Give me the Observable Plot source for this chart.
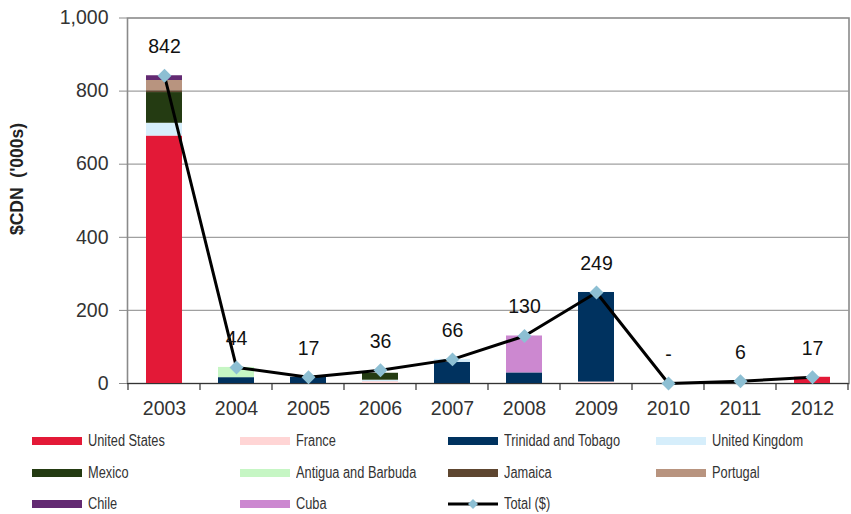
<!DOCTYPE html>
<html>
<head>
<meta charset="utf-8">
<script src="https://cdn.jsdelivr.net/npm/d3@7"></script>
<script src="https://cdn.jsdelivr.net/npm/@observablehq/plot@0.6"></script>
<style>
  html, body { margin: 0; padding: 0; background: #fff; }
  #wrap { position: relative; width: 851px; height: 514px; overflow: hidden; font-family: "Liberation Sans", Arial, sans-serif; }
  #ytitle { position: absolute; left: 17px; top: 179px; transform: translate(-50%, -50%) rotate(-90deg); font-weight: bold; font-size: 17.5px; color: #222; white-space: pre; }
  #legend { position: absolute; left: 32px; top: 425.5px; display: grid; grid-template-columns: repeat(4, 208px); grid-auto-rows: 31.5px; }
  .item { display: flex; align-items: center; height: 31.5px; }
  .sw { width: 50px; height: 8px; flex: none; }
  .lab { margin-left: 6px; font-size: 16px; color: #333; transform: scaleX(0.8); transform-origin: left center; white-space: nowrap; }
</style>
</head>
<body>
<div id="wrap">
  <div id="chart"></div>
  <div id="ytitle">$CDN  ('000s)</div>
  <div id="legend"></div>
</div>
<script>
const years = ["2003","2004","2005","2006","2007","2008","2009","2010","2011","2012"];
const countries = ["United States","France","Trinidad and Tobago","United Kingdom","Mexico","Antigua and Barbuda","Jamaica","Portugal","Chile","Cuba"];
const countryColors = ["#E31937","#FFD5D5","#00325F","#D6EEFB","#243B12","#C6F6C4","#5E4630","#B8947F","#632A72","#CC88D0"];

const unitedStates     = [677, 0, 0, 0, 0, 0, 0, 0, 0, 17];
const france           = [0, 0, 0, 5, 0, 0, 4, 0, 0, 0];
const trinidadTobago   = [0, 16, 17, 0, 58, 29, 245, 0, 0, 0];
const unitedKingdom    = [35, 0, 0, 4, 8, 0, 0, 0, 0, 0];
const mexico           = [84, 0, 0, 19, 0, 0, 0, 0, 0, 0];
const antiguaBarbuda   = [0, 28, 0, 0, 0, 0, 0, 0, 0, 0];
const jamaica          = [5, 0, 0, 0, 0, 0, 0, 0, 0, 0];
const portugal         = [28, 0, 0, 0, 0, 0, 0, 0, 0, 0];
const chile            = [13, 0, 0, 0, 0, 0, 0, 0, 0, 0];
const cuba             = [0, 0, 0, 0, 0, 101, 0, 0, 0, 0];
const totals           = [842, 44, 17, 36, 66, 130, 249, 0, 6, 17];
const yTicks = [0, 200, 400, 600, 800, 1000];

const seriesValues = [unitedStates, france, trinidadTobago, unitedKingdom, mexico, antiguaBarbuda, jamaica, portugal, chile, cuba];
const stacked = [];
countries.forEach((c, ci) => years.forEach((y, yi) => {
  if (seriesValues[ci][yi] > 0) stacked.push({year: y, country: c, value: seriesValues[ci][yi]});
}));
const totalRows = years.map((y, i) => ({year: y, total: totals[i], label: totals[i] === 0 ? "-" : d3.format(",")(totals[i])}));

function boundaryTicks(index, scales, values, dimensions) {
  const x = scales.x, y = scales.y;
  const step = x(years[1]) - x(years[0]);
  const y0 = y(0);
  const g = d3.create("svg:g").attr("stroke", "#333").attr("stroke-width", 1.2);
  const xs = years.map(v => x(v) - step * 0.25);
  xs.push(x(years[years.length - 1]) + step * 0.75);
  xs.forEach(px => g.append("line").attr("x1", px).attr("x2", px).attr("y1", y0).attr("y2", y0 + 7));
  return g.node();
}

const chart = Plot.plot({
  width: 851,
  height: 423,
  marginLeft: 127,
  marginRight: 2.5,
  marginTop: 17.5,
  marginBottom: 40,
  style: {fontFamily: "'Liberation Sans', Arial, sans-serif", background: "#fff", overflow: "visible"},
  x: {domain: years, paddingInner: 0.5, paddingOuter: 0.25, label: null},
  y: {domain: [0, 1000], label: null},
  color: {domain: countries, range: countryColors},
  marks: [
    Plot.gridY([200, 400, 600, 800], {stroke: "#a0a0a0", strokeOpacity: 1, strokeWidth: 1.2}),
    Plot.frame({stroke: "#8a8a8a", strokeWidth: 1.6}),
    Plot.barY(stacked, Plot.stackY({x: "year", y: "value", fill: "country", order: countries})),
    Plot.ruleY([0], {stroke: "#333", strokeWidth: 1.2}),
    boundaryTicks,
    Plot.lineY(totalRows, {x: "year", y: "total", stroke: "#000", strokeWidth: 3}),
    Plot.dot(totalRows, {x: "year", y: "total", symbol: "diamond2", r: 6.3, fill: "#8DBFD3", stroke: "none"}),
    Plot.text(totalRows, {x: "year", y: "total", text: "label", dy: -29, fontSize: 19.5, fill: "#111"}),
    Plot.axisY(yTicks, {tickFormat: d3.format(","), tickSize: 8, tickPadding: 11, fontSize: 19.5, color: "#333", stroke: "#8a8a8a"}),
    Plot.axisX({tickSize: 0, tickPadding: 18, fontSize: 19.5, color: "#333"})
  ]
});
document.getElementById("chart").appendChild(chart);

const legend = document.getElementById("legend");
countries.forEach((c, i) => {
  const it = document.createElement("div"); it.className = "item";
  it.innerHTML = `<div class="sw" style="background:${countryColors[i]}"></div><span class="lab">${c}</span>`;
  legend.appendChild(it);
});
const tot = document.createElement("div"); tot.className = "item";
tot.innerHTML = `<svg width="50" height="14" style="flex:none"><line x1="0" x2="50" y1="7" y2="7" stroke="#000" stroke-width="3"/><path d="M25,2L30,7L25,12L20,7Z" fill="#8DBFD3"/></svg><span class="lab">Total ($)</span>`;
legend.appendChild(tot);
</script>
</body>
</html>
